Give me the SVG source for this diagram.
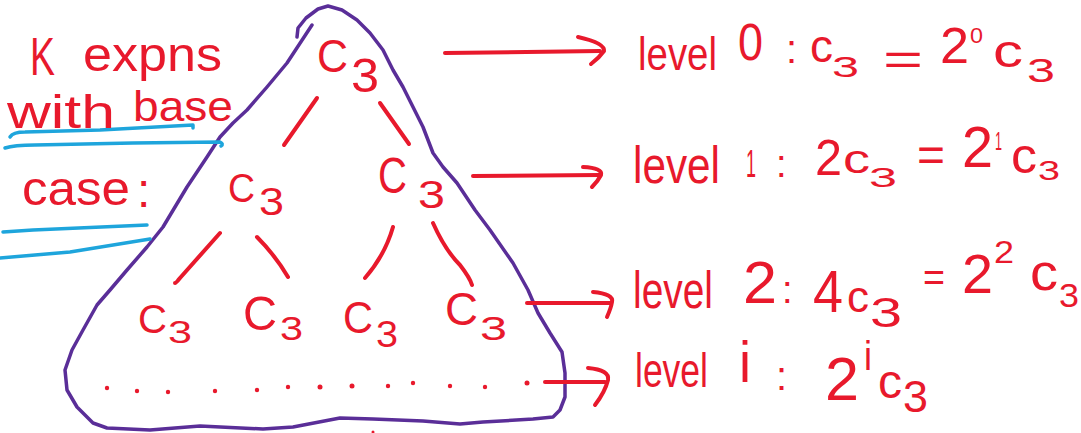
<svg xmlns="http://www.w3.org/2000/svg" width="1081" height="433" viewBox="0 0 1081 433">
<style>
text{font-family:"Liberation Sans",Arial,sans-serif;fill:#e8192c;}
.ln{fill:none;stroke:#e8192c;stroke-width:4;stroke-linecap:round;stroke-linejoin:round;}
.pu{fill:none;stroke:#5a2e98;stroke-width:3.5;stroke-linecap:round;stroke-linejoin:round;}
.bl{fill:none;stroke:#1ea5dc;stroke-width:3.5;stroke-linecap:round;stroke-linejoin:round;}
.dot{fill:#e8192c;}
</style>
<rect width="1081" height="433" fill="#ffffff"/>

<g id="outline">
<path class="pu" d="M312,25 L287,63 L267,87 L247,110 L233,123 L220,137 L207,157 L187,187 L163,227 L147,247 L127,270 L110,290 L97,305 L83,330 L72,350 L65,370 L67,390 L77,407 L93,423 L107,428 L150,430 L200,426 L263,429 L293,427 L340,418 L373,419 L423,421 L460,424 L483,422 L533,419 L553,417 L560,410 L565,397 L565,373 L562,352 L550,333 L538,313 L528,290 L513,263 L490,230 L475,210 L457,183 L443,167 L433,153 L423,127 L413,107 L403,87 L393,70 L383,50 L370,33 L357,20 L342,10 L328,6 L318,9 L306,18 L298,28 L297,37"/>
</g>

<g id="underlines">
<path class="bl" d="M10,137 Q13,132 25,132 L100,130 L193,125 L193,128"/>
<path class="bl" d="M5,148 Q14,145 35,145 L133,143 L220,142 Q224,144 221,146"/>
<path class="bl" d="M3,232 L33,230 L147,225"/>
<path class="bl" d="M0,258 L70,252 L150,239"/>
</g>

<g id="label-left">
<text x="30" y="75" font-size="54" textLength="25" lengthAdjust="spacingAndGlyphs">K</text>
<text x="83" y="71" font-size="48" textLength="139" lengthAdjust="spacingAndGlyphs">expns</text>
<text x="7" y="128" font-size="46" textLength="108" lengthAdjust="spacingAndGlyphs">with</text>
<text x="133" y="121" font-size="42" textLength="100" lengthAdjust="spacingAndGlyphs">base</text>
<text x="22" y="205" font-size="48" textLength="108" lengthAdjust="spacingAndGlyphs">case</text>
<text x="137" y="207" font-size="48">:</text>
</g>

<g id="n0"><text x="317" y="72" font-size="46" textLength="31" lengthAdjust="spacingAndGlyphs">C</text><text x="351" y="92" font-size="49" textLength="28" lengthAdjust="spacingAndGlyphs">3</text></g>
<g id="n1a"><text x="228" y="202" font-size="40" textLength="27" lengthAdjust="spacingAndGlyphs">C</text><text x="259" y="215" font-size="39" textLength="25" lengthAdjust="spacingAndGlyphs">3</text></g>
<g id="n1b"><text x="378" y="193" font-size="50" textLength="29" lengthAdjust="spacingAndGlyphs">C</text><text x="418" y="208" font-size="39" textLength="27" lengthAdjust="spacingAndGlyphs">3</text></g>
<g id="n2a"><text x="138" y="333" font-size="40" textLength="29" lengthAdjust="spacingAndGlyphs">C</text><text x="168" y="343" font-size="32" textLength="24" lengthAdjust="spacingAndGlyphs">3</text></g>
<g id="n2b"><text x="243" y="330" font-size="49" textLength="34" lengthAdjust="spacingAndGlyphs">C</text><text x="280" y="340" font-size="33" textLength="23" lengthAdjust="spacingAndGlyphs">3</text></g>
<g id="n2c"><text x="343" y="333" font-size="44" textLength="30" lengthAdjust="spacingAndGlyphs">C</text><text x="376" y="347" font-size="37" textLength="22" lengthAdjust="spacingAndGlyphs">3</text></g>
<g id="n2d"><text x="445" y="325" font-size="46" textLength="33" lengthAdjust="spacingAndGlyphs">C</text><text x="480" y="340" font-size="33" textLength="27" lengthAdjust="spacingAndGlyphs">3</text></g>

<g id="connectors">
<path class="ln" d="M317,98 L284,145"/>
<path class="ln" d="M380,103 L409,144"/>
<path class="ln" d="M220,233 L180,278 Q176,283 175,283"/>
<path class="ln" d="M257,237 Q275,255 288,277"/>
<path class="ln" d="M393,227 Q385,255 365,278"/>
<path class="ln" d="M433,223 Q445,250 460,265 Q470,278 472,285"/>
<path class="ln" d="M445,53 L600,51"/>
<path class="ln" d="M578,37 Q605,43 604,51 Q599,58 591,64"/>
<path class="ln" d="M473,176 L600,175"/>
<path class="ln" d="M583,167 Q603,168 601,175 Q598,181 592,187"/>
<path class="ln" d="M527,303 L610,303"/>
<path class="ln" d="M593,292 Q614,294 612,302 Q611,308 607,317"/>
<path class="ln" d="M545,382 L605,382"/>
<path class="ln" d="M588,368 Q610,370 608,380 Q605,392 595,405"/>
</g>

<g id="dots">
<circle class="dot" cx="107" cy="388" r="2.2"/>
<circle class="dot" cx="137" cy="391" r="2.2"/>
<circle class="dot" cx="168" cy="392" r="2.2"/>
<circle class="dot" cx="215" cy="391" r="2.2"/>
<circle class="dot" cx="257" cy="390" r="2.2"/>
<circle class="dot" cx="288" cy="387" r="2.2"/>
<circle class="dot" cx="320" cy="387" r="2.5"/>
<circle class="dot" cx="352" cy="386" r="2.5"/>
<circle class="dot" cx="388" cy="386" r="2.2"/>
<circle class="dot" cx="413" cy="383" r="2.2"/>
<circle class="dot" cx="450" cy="386" r="2.2"/>
<circle class="dot" cx="485" cy="387" r="2.2"/>
<circle class="dot" cx="527" cy="383" r="2.5"/>
<circle class="dot" cx="373" cy="432" r="1.5"/>
</g>

<g id="level0">
<text x="638" y="70" font-size="47" textLength="79" lengthAdjust="spacingAndGlyphs">level</text>
<text x="738" y="60" font-size="51" textLength="25" lengthAdjust="spacingAndGlyphs">0</text>
<text x="786" y="63" font-size="40">:</text>
<text x="810" y="62" font-size="46" textLength="23" lengthAdjust="spacingAndGlyphs">c</text>
<text x="832" y="77" font-size="30" textLength="27" lengthAdjust="spacingAndGlyphs">3</text>
<text x="883" y="75" font-size="44" textLength="40" lengthAdjust="spacingAndGlyphs">=</text>
<text x="940" y="63" font-size="50" textLength="29" lengthAdjust="spacingAndGlyphs">2</text>
<text x="970" y="43" font-size="22" textLength="13" lengthAdjust="spacingAndGlyphs">0</text>
<text x="993" y="67" font-size="46" textLength="30" lengthAdjust="spacingAndGlyphs">c</text>
<text x="1027" y="82" font-size="34" textLength="28" lengthAdjust="spacingAndGlyphs">3</text>
</g>

<g id="level1">
<text x="633" y="183" font-size="52" textLength="87" lengthAdjust="spacingAndGlyphs">level</text>
<text x="746" y="177" font-size="38" textLength="10" lengthAdjust="spacingAndGlyphs">1</text>
<text x="776" y="177" font-size="38">:</text>
<text x="815" y="175" font-size="50" textLength="27" lengthAdjust="spacingAndGlyphs">2</text>
<text x="843" y="173" font-size="40" textLength="27" lengthAdjust="spacingAndGlyphs">c</text>
<text x="869" y="187" font-size="27" textLength="28" lengthAdjust="spacingAndGlyphs">3</text>
<text x="917" y="171" font-size="48" textLength="28" lengthAdjust="spacingAndGlyphs">=</text>
<text x="962" y="167" font-size="58" textLength="31" lengthAdjust="spacingAndGlyphs">2</text>
<text x="995" y="150" font-size="26" textLength="7" lengthAdjust="spacingAndGlyphs">1</text>
<text x="1011" y="173" font-size="50" textLength="26" lengthAdjust="spacingAndGlyphs">c</text>
<text x="1038" y="180" font-size="28" textLength="22" lengthAdjust="spacingAndGlyphs">3</text>
</g>

<g id="level2">
<text x="633" y="308" font-size="52" textLength="80" lengthAdjust="spacingAndGlyphs">level</text>
<text x="743" y="303" font-size="60" textLength="34" lengthAdjust="spacingAndGlyphs">2</text>
<text x="782" y="303" font-size="38">:</text>
<text x="813" y="312" font-size="60" textLength="30" lengthAdjust="spacingAndGlyphs">4</text>
<text x="847" y="312" font-size="44" textLength="22" lengthAdjust="spacingAndGlyphs">c</text>
<text x="870" y="327" font-size="42" textLength="32" lengthAdjust="spacingAndGlyphs">3</text>
<text x="923" y="291" font-size="40" textLength="22" lengthAdjust="spacingAndGlyphs">=</text>
<text x="962" y="293" font-size="56" textLength="31" lengthAdjust="spacingAndGlyphs">2</text>
<text x="994" y="263" font-size="32" textLength="20" lengthAdjust="spacingAndGlyphs">2</text>
<text x="1030" y="290" font-size="52" textLength="28" lengthAdjust="spacingAndGlyphs">c</text>
<text x="1059" y="307" font-size="34" textLength="20" lengthAdjust="spacingAndGlyphs">3</text>
</g>

<g id="leveli">
<text x="635" y="387" font-size="49" textLength="73" lengthAdjust="spacingAndGlyphs">level</text>
<text x="739" y="382" font-size="58" textLength="12" lengthAdjust="spacingAndGlyphs">i</text>
<text x="776" y="390" font-size="40">:</text>
<text x="825" y="400" font-size="62" textLength="34" lengthAdjust="spacingAndGlyphs">2</text>
<text x="864" y="370" font-size="40" textLength="8" lengthAdjust="spacingAndGlyphs">i</text>
<text x="878" y="398" font-size="48" textLength="24" lengthAdjust="spacingAndGlyphs">c</text>
<text x="903" y="412" font-size="44" textLength="25" lengthAdjust="spacingAndGlyphs">3</text>
</g>
</svg>
